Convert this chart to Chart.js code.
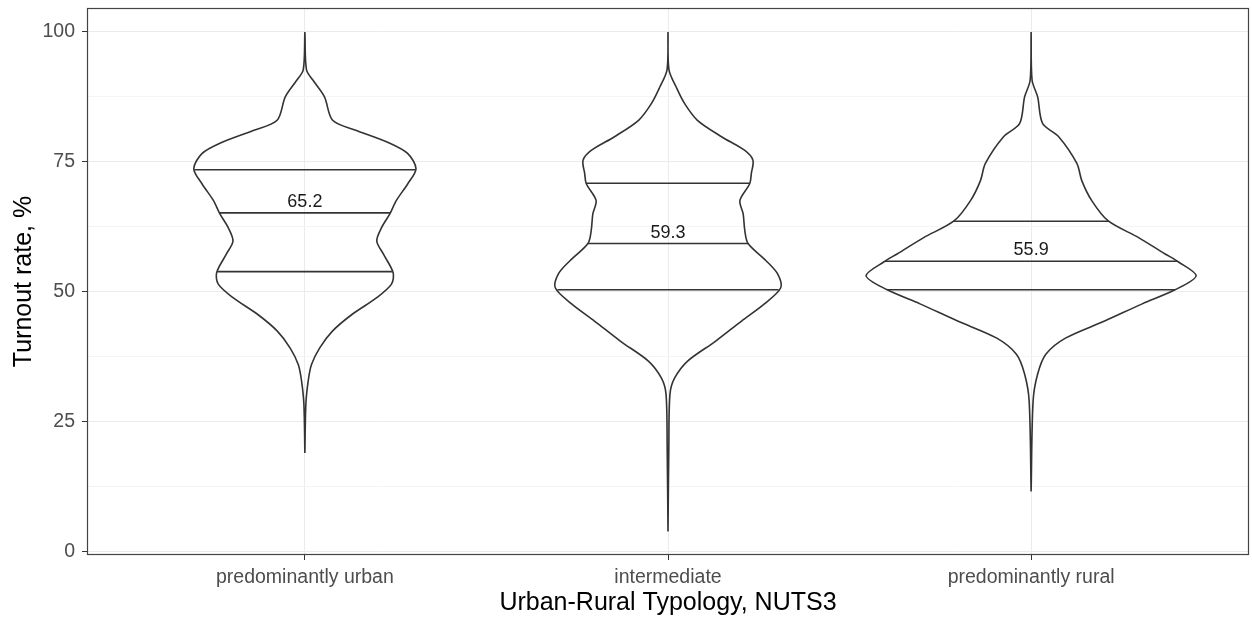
<!DOCTYPE html>
<html>
<head>
<meta charset="utf-8">
<script src="https://cdn.jsdelivr.net/npm/chart.js@4/dist/chart.umd.min.js"></script>
<style>
  body { margin: 0; background: #fff; }
  canvas { display: block; }
</style>
</head>
<body>
<canvas id="turnout" width="1252" height="619"></canvas>
<script>
// categories and turnout density outlines (y = turnout %, w = scaled density width)
var categories = ['predominantly urban', 'intermediate', 'predominantly rural'];
var yTicks = [0, 25, 50, 75, 100];

var urbanY = [19, 28.4, 32.8, 36, 39.2, 42.5, 45.7, 48.9, 51.5, 53.7, 57.3, 59.8, 62.4, 65, 67.6, 70.8, 73.7, 76.6, 78.6, 81, 83, 87.5, 90.7, 92.7, 100];
var urbanW = [0, .006, .02, .04, .09, .17, .29, .44, .53, .54, .48, .44, .47, .52, .56, .63, .68, .63, .52, .32, .17, .12, .05, .01, 0];

var interY = [3.9, 20, 30.3, 33.4, 36.7, 40.5, 44.4, 47.7, 50.8, 53.5, 56, 59.3, 61.8, 65, 67.6, 70.8, 72.8, 75.3, 77.2, 79.8, 83, 86.3, 89.4, 92.7, 100];
var interW = [0, .005, .012, .04, .12, .29, .45, .59, .69, .67, .60, .49, .47, .46, .44, .50, .51, .52, .47, .33, .18, .10, .05, .006, 0];

var ruralY = [11.6, 29, 34.2, 38, 41.1, 44.4, 47.7, 50.4, 53.1, 55.8, 57.3, 60.4, 63.7, 67.6, 71.4, 74.7, 79.8, 82.4, 87.5, 90.7, 100];
var ruralW = [0, .012, .04, .09, .21, .45, .68, .88, 1.01, .90, .82, .66, .47, .37, .31, .28, .17, .07, .04, .006, 0];

// 25%, 50%, 75% quantiles per category
var urbanQ = [53.9, 65.2, 73.5];
var interQ = [50.4, 59.3, 70.9];
var ruralQ = [50.4, 55.9, 63.6];

var violins = [
  { y: urbanY, w: urbanW, q: urbanQ },
  { y: interY, w: interW, q: interQ },
  { y: ruralY, w: ruralW, q: ruralQ }
];

var halfScale = 0.45;   // widest violin spans 0.9 of a category slot
var lineCol = '#333333';
var fontFam = '"Liberation Sans", Arial, sans-serif';

function widthAt(ys, ws, v) {
  for (var i = 0; i < ys.length - 1; i++) {
    if (v >= ys[i] && v <= ys[i + 1]) {
      var t = (v - ys[i]) / (ys[i + 1] - ys[i]);
      return ws[i] + t * (ws[i + 1] - ws[i]);
    }
  }
  return 0;
}

var datasets = [];
violins.forEach(function(v, k) {
  var c = k + 1;
  var pts = [];
  for (var i = 0; i < v.y.length; i++) pts.push({ x: c - v.w[i] * halfScale, y: v.y[i] });
  for (var j = v.y.length - 1; j >= 0; j--) pts.push({ x: c + v.w[j] * halfScale, y: v.y[j] });
  datasets.push({
    data: pts, showLine: true, pointRadius: 0, borderColor: lineCol,
    borderWidth: 1.6, tension: 0.3, fill: false
  });
  v.q.forEach(function(q) {
    var hw = widthAt(v.y, v.w, q) * halfScale;
    datasets.push({
      data: [{ x: c - hw, y: q }, { x: c + hw, y: q }],
      showLine: true, pointRadius: 0, borderColor: lineCol, borderWidth: 1.6, tension: 0
    });
  });
});

// median value written above each median line, plus the panel border
var extras = {
  id: 'extras',
  afterDatasetsDraw: function(chart) {
    var ctx = chart.ctx, xs = chart.scales.x, ys = chart.scales.y;
    ctx.save();
    ctx.fillStyle = '#1a1a1a';
    ctx.font = '18px ' + fontFam;
    ctx.textAlign = 'center';
    ctx.textBaseline = 'alphabetic';
    violins.forEach(function(v, k) {
      ctx.fillText(v.q[1].toFixed(1), xs.getPixelForValue(k + 1), ys.getPixelForValue(v.q[1]) - 6);
    });
    var a = chart.chartArea;
    ctx.strokeStyle = '#444';
    ctx.lineWidth = 1.2;
    ctx.strokeRect(a.left + 0.5, a.top + 0.5, a.right - a.left - 1, a.bottom - a.top - 1);
    ctx.restore();
  }
};

new Chart(document.getElementById('turnout'), {
  type: 'scatter',
  data: { datasets: datasets },
  plugins: [extras],
  options: {
    responsive: false,
    animation: false,
    layout: { padding: { top: 8, right: 3, left: 0, bottom: 0 } },
    plugins: { legend: { display: false }, tooltip: { enabled: false } },
    scales: {
      x: {
        type: 'linear', min: 0.4, max: 3.6,
        afterBuildTicks: function(s) { s.ticks = [1, 2, 3].map(function(v) { return { value: v }; }); },
        afterFit: function(s) { s.height = 64; s.paddingLeft = 0; s.paddingRight = 0; },
        ticks: {
          color: '#4d4d4d', padding: 6,
          font: { family: fontFam, size: 19.5 },
          callback: function(v) { return categories[v - 1]; }
        },
        grid: { color: '#ebebeb', tickColor: lineCol, tickLength: 5 },
        border: { display: false },
        title: {
          display: true, text: 'Urban-Rural Typology, NUTS3', color: '#000',
          font: { family: fontFam, size: 25 },
          padding: { top: 0, bottom: 1 }
        }
      },
      y: {
        min: -0.6, max: 104.6,
        afterBuildTicks: function(s) {
          s.ticks = [0, 12.5, 25, 37.5, 50, 62.5, 75, 87.5, 100].map(function(v) { return { value: v }; });
        },
        afterFit: function(s) { s.width = 87; s.paddingTop = 0; s.paddingBottom = 0; },
        ticks: {
          color: '#4d4d4d', padding: 7,
          font: { family: fontFam, size: 19.5 },
          callback: function(v) { return yTicks.indexOf(v) >= 0 ? String(v) : ''; }
        },
        grid: {
          color: function(c) { return c.tick && yTicks.indexOf(c.tick.value) >= 0 ? '#ebebeb' : '#f4f4f4'; },
          tickColor: function(c) { return c.tick && yTicks.indexOf(c.tick.value) >= 0 ? lineCol : 'rgba(0,0,0,0)'; },
          tickLength: 5
        },
        border: { display: false },
        title: {
          display: true, text: 'Turnout rate, %', color: '#000',
          font: { family: fontFam, size: 25 },
          padding: { top: 9, bottom: 0 }
        }
      }
    }
  }
});
</script>
</body>
</html>
